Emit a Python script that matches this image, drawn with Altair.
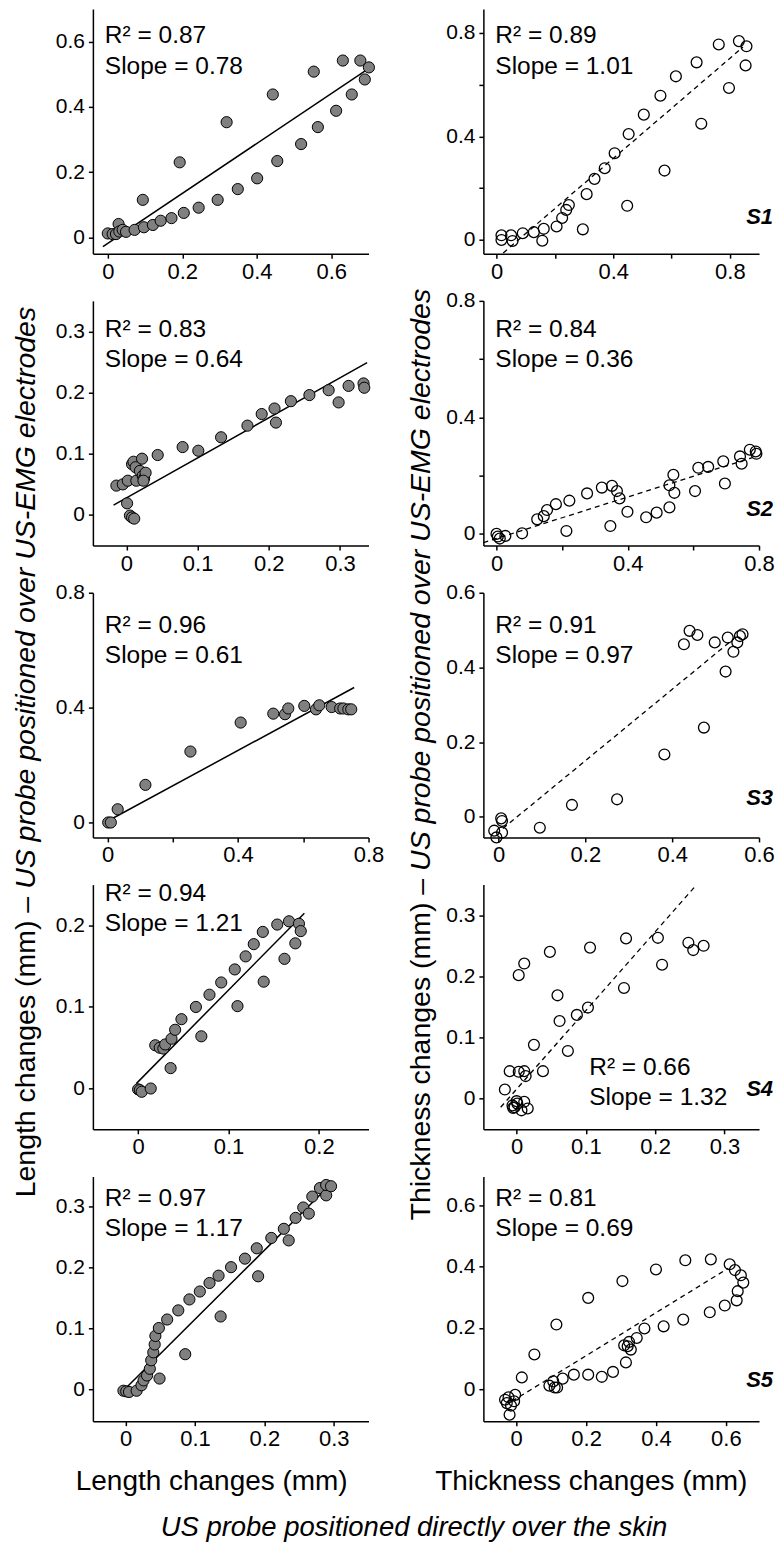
import altair as alt
import pandas as pd

FONT = "Liberation Sans"

# ---------------- data ----------------
# Row 1, S1
L1_x = [0.000, 0.013, 0.022, 0.029, 0.031, 0.040, 0.049, 0.072, 0.094, 0.097, 0.121, 0.142, 0.171, 0.193, 0.204, 0.244,
        0.295, 0.319, 0.349, 0.401, 0.443, 0.455, 0.519, 0.553, 0.564, 0.613, 0.631, 0.655, 0.678, 0.690, 0.701]
L1_y = [0.012, 0.010, 0.010, 0.041, 0.018, 0.023, 0.017, 0.023, 0.115, 0.031, 0.038, 0.051, 0.059, 0.230, 0.075, 0.091,
        0.115, 0.353, 0.148, 0.181, 0.438, 0.234, 0.286, 0.508, 0.338, 0.388, 0.542, 0.438, 0.542, 0.484, 0.521]
L1_fit_x = [-0.013, 0.701]
L1_fit_y = [-0.028, 0.518]

R1_x = [0.017, 0.017, 0.050, 0.055, 0.090, 0.128, 0.157, 0.162, 0.206, 0.225, 0.239, 0.248, 0.296, 0.309, 0.336,
        0.371, 0.405, 0.448, 0.453, 0.505, 0.562, 0.576, 0.615, 0.686, 0.702, 0.762, 0.797, 0.831, 0.854, 0.857]
R1_y = [0.018, 0.000, 0.018, -0.004, 0.026, 0.030, -0.003, 0.043, 0.052, 0.085, 0.116, 0.135, 0.041, 0.177, 0.236,
        0.277, 0.335, 0.132, 0.409, 0.484, 0.557, 0.268, 0.632, 0.686, 0.449, 0.755, 0.587, 0.768, 0.674, 0.748]
R1_fit_x = [0.023, 0.845]
R1_fit_y = [-0.050, 0.745]

# Row 2, S2
L2_x = [-0.014, -0.005, 0.002, 0.001, 0.005, 0.008, 0.011, 0.008, 0.010, 0.013, 0.014, 0.019, 0.022, 0.023, 0.025, 0.027,
        0.024, 0.044, 0.079, 0.101, 0.133, 0.170, 0.190, 0.208, 0.210, 0.231, 0.257, 0.284, 0.298, 0.312, 0.333, 0.334]
L2_y = [0.048, 0.050, 0.056, 0.019, -0.001, -0.004, -0.006, 0.083, 0.087, 0.078, 0.056, 0.072, 0.092, 0.064, 0.060, 0.069,
        0.056, 0.098, 0.111, 0.105, 0.127, 0.146, 0.165, 0.174, 0.151, 0.186, 0.196, 0.204, 0.184, 0.211, 0.215, 0.208]
L2_fit_x = [-0.018, 0.338]
L2_fit_y = [0.016, 0.249]

R2_x = [0.000, 0.004, 0.010, 0.027, 0.078, 0.124, 0.144, 0.154, 0.181, 0.213, 0.222, 0.276, 0.321, 0.347, 0.352, 0.367,
        0.375, 0.399, 0.456, 0.488, 0.527, 0.527, 0.539, 0.542, 0.605, 0.615, 0.645, 0.691, 0.696, 0.742, 0.747, 0.772,
        0.790, 0.792]
R2_y = [0.000, -0.009, -0.016, -0.007, 0.002, 0.050, 0.061, 0.082, 0.102, 0.010, 0.114, 0.139, 0.159, 0.027, 0.165, 0.147,
        0.122, 0.076, 0.057, 0.073, 0.091, 0.167, 0.203, 0.141, 0.147, 0.227, 0.230, 0.249, 0.173, 0.266, 0.241, 0.289,
        0.283, 0.275]
R2_fit_x = [-0.040, 0.780]
R2_fit_y = [-0.030, 0.262]

# Row 3, S3
L3_x = [0.002, 0.010, 0.031, 0.116, 0.254, 0.408, 0.508, 0.544, 0.554, 0.603, 0.639, 0.649, 0.687, 0.713, 0.723, 0.738, 0.747]
L3_y = [0.000, 0.000, 0.046, 0.131, 0.247, 0.348, 0.379, 0.377, 0.397, 0.406, 0.394, 0.408, 0.402, 0.397, 0.397, 0.394, 0.394]
L3_fit_x = [0.002, 0.756]
L3_fit_y = [0.006, 0.470]

R3_x = [0.006, 0.008, -0.010, -0.005, 0.008, 0.095, 0.169, 0.273, 0.382, 0.427, 0.440, 0.458, 0.473, 0.498, 0.523,
        0.528, 0.541, 0.550, 0.556, 0.562]
R3_y = [-0.004, -0.011, -0.037, -0.055, -0.042, -0.029, 0.032, 0.047, 0.167, 0.462, 0.498, 0.487, 0.239, 0.467, 0.389,
        0.480, 0.442, 0.467, 0.484, 0.489]
R3_fit_x = [0.010, 0.542]
R3_fit_y = [-0.031, 0.477]

# Row 4, S4
L4_x = [0.000, 0.002, 0.004, 0.014, 0.019, 0.024, 0.028, 0.030, 0.036, 0.037, 0.041, 0.048, 0.064, 0.070, 0.079, 0.092,
        0.107, 0.110, 0.119, 0.128, 0.138, 0.139, 0.154, 0.162, 0.167, 0.174, 0.178, 0.180]
L4_y = [-0.001, -0.002, -0.004, 0.000, 0.053, 0.050, 0.049, 0.054, 0.025, 0.061, 0.072, 0.085, 0.100, 0.064, 0.115, 0.130,
        0.146, 0.101, 0.162, 0.177, 0.192, 0.131, 0.201, 0.159, 0.205, 0.178, 0.202, 0.193]
L4_fit_x = [-0.002, 0.184]
L4_fit_y = [0.006, 0.215]

R4_x = [-0.017, -0.010, 0.003, 0.011, 0.013, 0.003, 0.011, 0.025, 0.038, 0.048, 0.059, 0.062, 0.074, 0.087, 0.103, 0.106,
        0.155, 0.158, 0.204, 0.210, 0.248, 0.255, 0.270, -0.006, -0.003, 0.001, 0.007, 0.011, 0.000, 0.016, -0.005]
R4_y = [0.015, 0.045, 0.044, 0.045, 0.037, 0.202, 0.221, 0.088, 0.045, 0.240, 0.169, 0.127, 0.078, 0.137, 0.149, 0.247,
        0.181, 0.262, 0.263, 0.219, 0.255, 0.243, 0.250, -0.011, -0.014, -0.008, -0.019, -0.005, -0.004, -0.016, -0.015]
R4_fit_x = [-0.023, 0.260]
R4_fit_y = [-0.014, 0.350]

# Row 5, S5
L5_x = [-0.003, 0.001, 0.005, 0.016, 0.023, 0.026, 0.031, 0.035, 0.037, 0.040, 0.042, 0.043, 0.048, 0.049, 0.060, 0.076,
        0.086, 0.092, 0.107, 0.121, 0.134, 0.137, 0.152, 0.172, 0.189, 0.191, 0.210, 0.228, 0.235, 0.245, 0.256, 0.264,
        0.269, 0.280, 0.289, 0.289, 0.296]
L5_y = [-0.002, -0.003, -0.004, -0.002, 0.007, 0.015, 0.023, 0.034, 0.048, 0.061, 0.074, 0.088, 0.101, 0.018, 0.115, 0.130,
        0.058, 0.148, 0.161, 0.175, 0.187, 0.120, 0.201, 0.215, 0.232, 0.186, 0.249, 0.264, 0.245, 0.282, 0.299, 0.289,
        0.317, 0.331, 0.319, 0.336, 0.334]
L5_fit_x = [0.001, 0.298]
L5_fit_y = [0.003, 0.340]

R5_x = [-0.032, -0.027, -0.022, -0.015, -0.006, -0.003, -0.019, 0.016, 0.052, 0.095, 0.106, 0.110, 0.117, 0.115, 0.133,
        0.165, 0.206, 0.206, 0.245, 0.277, 0.304, 0.314, 0.309, 0.319, 0.328, 0.323, 0.345, 0.367, 0.400, 0.422, 0.478,
        0.484, 0.554, 0.557, 0.597, 0.611, 0.626, 0.631, 0.634, 0.643, 0.650]
R5_y = [-0.035, -0.046, -0.027, -0.054, -0.040, -0.019, -0.084, 0.038, 0.113, 0.011, 0.025, 0.005, 0.005, 0.211, 0.034,
        0.047, 0.047, 0.298, 0.040, 0.056, 0.353, 0.087, 0.143, 0.140, 0.129, 0.154, 0.167, 0.198, 0.391, 0.205, 0.227,
        0.421, 0.251, 0.424, 0.273, 0.408, 0.389, 0.290, 0.320, 0.372, 0.348]
R5_fit_x = [-0.012, 0.607]
R5_fit_y = [-0.040, 0.395]

R2_TEXT = ["R² = 0.87", "R² = 0.89", "R² = 0.83", "R² = 0.84", "R² = 0.96",
           "R² = 0.91", "R² = 0.94", "R² = 0.66", "R² = 0.97", "R² = 0.81"]
SLOPE_TEXT = ["Slope = 0.78", "Slope = 1.01", "Slope = 0.64", "Slope = 0.36", "Slope = 0.61",
              "Slope = 0.97", "Slope = 1.21", "Slope = 1.32", "Slope = 1.17", "Slope = 0.69"]
SUBJECTS = ["S1", "S2", "S3", "S4", "S5"]

Y_TITLE_A_LEFT = "Length changes (mm) –"
Y_TITLE_A_RIGHT = "Thickness changes (mm) –"
Y_TITLE_B = "US probe positioned over US-EMG electrodes"
X_TITLE_LEFT = "Length changes (mm)"
X_TITLE_RIGHT = "Thickness changes (mm)"
BOTTOM_TITLE = "US probe positioned directly over the skin"

# axis ticks and labelled ticks
T02_08 = [0, 0.2, 0.4, 0.6, 0.8]
L04_08 = [0, 0.4, 0.8]

# ---------------- panel specifications ----------------
P = [
    dict(x=L1_x, y=L1_y, fx=L1_fit_x, fy=L1_fit_y, xdom=[-0.04, 0.70], ydom=[-0.05, 0.70],
         xt=[0, 0.2, 0.4, 0.6], xl=[0, 0.2, 0.4, 0.6], yt=[0, 0.2, 0.4, 0.6], yl=[0, 0.2, 0.4, 0.6],
         filled=True, ann=(12, 34, 65)),
    dict(x=R1_x, y=R1_y, fx=R1_fit_x, fy=R1_fit_y, xdom=[-0.045, 0.90], ydom=[-0.053, 0.892],
         xt=T02_08, xl=L04_08, yt=T02_08, yl=L04_08, filled=False, ann=(12, 34, 65), subj=215),
    dict(x=L2_x, y=L2_y, fx=L2_fit_x, fy=L2_fit_y, xdom=[-0.047, 0.34], ydom=[-0.05, 0.35],
         xt=[0, 0.1, 0.2, 0.3], xl=[0, 0.1, 0.2, 0.3], yt=[0, 0.1, 0.2, 0.3], yl=[0, 0.1, 0.2, 0.3],
         filled=True, ann=(12, 36, 66)),
    dict(x=R2_x, y=R2_y, fx=R2_fit_x, fy=R2_fit_y, xdom=[-0.04, 0.80], ydom=[-0.04, 0.80],
         xt=T02_08, xl=L04_08, yt=T02_08, yl=L04_08, filled=False, ann=(12, 36, 66), subj=215),
    dict(x=L3_x, y=L3_y, fx=L3_fit_x, fy=L3_fit_y, xdom=[-0.045, 0.80], ydom=[-0.052, 0.80],
         xt=T02_08, xl=L04_08, yt=[0, 0.4, 0.8], yl=L04_08, filled=True, ann=(12, 40, 70)),
    dict(x=R3_x, y=R3_y, fx=R3_fit_x, fy=R3_fit_y, xdom=[-0.035, 0.60], ydom=[-0.055, 0.60],
         xt=[0, 0.2, 0.4, 0.6], xl=[0, 0.2, 0.4, 0.6], yt=[0, 0.2, 0.4, 0.6], yl=[0, 0.2, 0.4, 0.6],
         filled=False, ann=(12, 40, 70), subj=213),
    dict(x=L4_x, y=L4_y, fx=L4_fit_x, fy=L4_fit_y, xdom=[-0.05, 0.255], ydom=[-0.05, 0.25],
         xt=[0, 0.1, 0.2], xl=[0, 0.1, 0.2], yt=[0, 0.1, 0.2], yl=[0, 0.1, 0.2],
         filled=True, ann=(12, 16, 46)),
    dict(x=R4_x, y=R4_y, fx=R4_fit_x, fy=R4_fit_y, xdom=[-0.048, 0.35], ydom=[-0.05, 0.35],
         xt=[0, 0.1, 0.2, 0.3], xl=[0, 0.1, 0.2, 0.3], yt=[0, 0.1, 0.2, 0.3], yl=[0, 0.1, 0.2, 0.3],
         filled=False, ann=(106, 191, 221), subj=212),
    dict(x=L5_x, y=L5_y, fx=L5_fit_x, fy=L5_fit_y, xdom=[-0.047, 0.35], ydom=[-0.052, 0.35],
         xt=[0, 0.1, 0.2, 0.3], xl=[0, 0.1, 0.2, 0.3], yt=[0, 0.1, 0.2, 0.3], yl=[0, 0.1, 0.2, 0.3],
         filled=True, ann=(12, 30, 60)),
    dict(x=R5_x, y=R5_y, fx=R5_fit_x, fy=R5_fit_y, xdom=[-0.094, 0.695], ydom=[-0.105, 0.695],
         xt=[0, 0.2, 0.4, 0.6], xl=[0, 0.2, 0.4, 0.6], yt=[0, 0.2, 0.4, 0.6], yl=[0, 0.2, 0.4, 0.6],
         filled=False, ann=(12, 30, 60), subj=211),
]

W, H = 276, 245


def label_expr(labels):
    cond = " || ".join(f"abs(datum.value - {v!r}) < 1e-9" for v in labels)
    return f"({cond}) ? format(datum.value, '~g') : ''"


def text_layer(txt, x, y, **style):
    base = dict(font=FONT, color="black", baseline="alphabetic")
    base.update(style)
    return alt.Chart(pd.DataFrame({"t": [txt]})).mark_text(**base).encode(
        x=alt.value(x), y=alt.value(y), text="t:N")


def make_panel(i, p):
    xs = alt.Scale(domain=p["xdom"], nice=False, zero=False)
    ys = alt.Scale(domain=p["ydom"], nice=False, zero=False)
    xa = alt.Axis(values=p["xt"], labelExpr=label_expr(p["xl"]), title=None)
    ya = alt.Axis(values=p["yt"], labelExpr=label_expr(p["yl"]), title=None)
    X = alt.X("x:Q", scale=xs, axis=xa)
    Y = alt.Y("y:Q", scale=ys, axis=ya)

    if p["filled"]:
        fit = alt.Chart(pd.DataFrame({"x": p["fx"], "y": p["fy"]})).mark_line(
            color="black", strokeWidth=1.5).encode(x=X, y=Y)
        pts = alt.Chart(pd.DataFrame({"x": p["x"], "y": p["y"]})).mark_circle(
            size=125, color="#808080", stroke="black", strokeWidth=1, opacity=1).encode(x=X, y=Y)
    else:
        fit = alt.Chart(pd.DataFrame({"x": p["fx"], "y": p["fy"]})).mark_line(
            color="black", strokeWidth=1.3, strokeDash=[5, 4]).encode(x=X, y=Y)
        pts = alt.Chart(pd.DataFrame({"x": p["x"], "y": p["y"]})).mark_point(
            shape="circle", filled=False, size=118, color="black", strokeWidth=1.3, opacity=1).encode(x=X, y=Y)

    ax, ay1, ay2 = p["ann"]
    layers = [fit, pts,
              text_layer(R2_TEXT[i], ax, ay1, fontSize=24.5, align="left"),
              text_layer(SLOPE_TEXT[i], ax, ay2, fontSize=24.5, align="left")]
    if "subj" in p:
        layers.append(text_layer(SUBJECTS[i // 2], 290, p["subj"], fontSize=22, align="right",
                                 fontWeight="bold", fontStyle="italic"))
    if i == 4:  # left vertical title
        layers.append(text_layer(Y_TITLE_A_LEFT, -58, 304.5, fontSize=28.5, angle=270, align="right"))
        layers.append(text_layer(Y_TITLE_B, -58, 296.5, fontSize=28.5, angle=270, align="left",
                                 fontStyle="italic"))
    if i == 5:  # right vertical title
        layers.append(text_layer(Y_TITLE_A_RIGHT, -53, 286.5, fontSize=28.5, angle=270, align="right"))
        layers.append(text_layer(Y_TITLE_B, -53, 278.5, fontSize=28.5, angle=270, align="left",
                                 fontStyle="italic"))
    if i == 8:
        layers.append(text_layer(X_TITLE_LEFT, 119, 314, fontSize=28, align="center"))
        layers.append(text_layer(BOTTOM_TITLE, 321.5, 360, fontSize=27.5, align="center",
                                 fontStyle="italic"))
    if i == 9:
        layers.append(text_layer(X_TITLE_RIGHT, 108, 314, fontSize=28, align="center"))
    return alt.layer(*layers).properties(width=W, height=H)


panels = [make_panel(i, p) for i, p in enumerate(P)]

chart = alt.concat(
    *panels, columns=2, spacing={"row": 47.25, "column": 115}, bounds="flush"
).properties(
    padding={"left": 3, "top": 0, "right": 0, "bottom": 0}
).configure_view(
    stroke=None
).configure_axis(
    domainColor="black", domainWidth=1.5, tickColor="black", tickWidth=1.5, tickSize=4.5,
    labelFont=FONT, labelColor="black", grid=False, labelFlush=False, labelOverlap=False
).configure_axisX(
    labelFontSize=22, labelPadding=3
).configure_axisY(
    labelFontSize=21, labelPadding=4
)

chart.save("out.html", embed_options={"renderer": "svg", "actions": False})
